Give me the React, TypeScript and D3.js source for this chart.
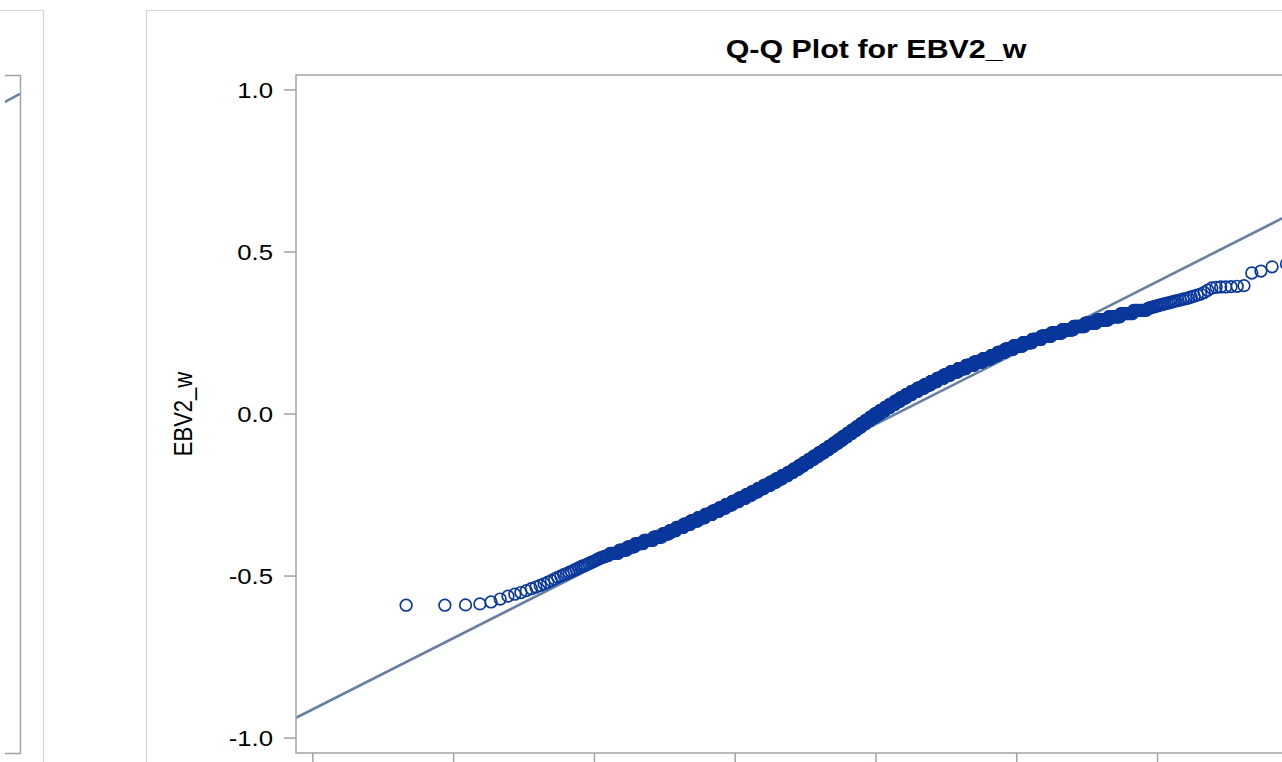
import React from "react";
import * as d3 from "d3";

// ---------- text ----------
const titleText = "Q-Q Plot for EBV2_w";
const yLabelText = "EBV2_w";

// ---------- axes ----------
const yTicks = [-1.0, -0.5, 0.0, 0.5, 1.0];
const xTicks = [-4, -3, -2, -1, 0, 1, 2, 3, 4];
const yDomain = [-1.046, 1.046];
const xDomain = [-4.12, 4.12];

// ---------- reference line (normal, mu / sigma) ----------
const refMu = -0.031;
const refSigma = 0.22;
// reference line of the neighbouring (cropped) panel on the left
const leftRefMu = 0.02;
const leftRefSigma = 0.235;

// ---------- sorted sample ----------
// lowest 43 order statistics
const lowTailValues = [
  -0.59, -0.59, -0.589, -0.586, -0.58, -0.571, -0.562, -0.556, -0.551, -0.545,
  -0.539, -0.534, -0.529, -0.524, -0.519, -0.514, -0.509, -0.504, -0.5, -0.496,
  -0.493, -0.489, -0.486, -0.482, -0.479, -0.475, -0.472, -0.469, -0.467, -0.464,
  -0.461, -0.459, -0.456, -0.454, -0.451, -0.448, -0.446, -0.443, -0.442, -0.44,
  -0.439, -0.437, -0.436,
];
// dense middle: value (rounded to 0.01) and number of observations
const midValues = [
  -0.43, -0.42, -0.41, -0.40, -0.39, -0.38, -0.37, -0.36, -0.35, -0.34,
  -0.33, -0.32, -0.31, -0.30, -0.29, -0.28, -0.27, -0.26, -0.25, -0.24,
  -0.23, -0.22, -0.21, -0.20, -0.19, -0.18, -0.17, -0.16, -0.15, -0.14,
  -0.13, -0.12, -0.11, -0.10, -0.09, -0.08, -0.07, -0.06, -0.05, -0.04,
  -0.03, -0.02, -0.01, 0.0, 0.01, 0.02, 0.03, 0.04, 0.05, 0.06,
  0.07, 0.08, 0.09, 0.10, 0.11, 0.12, 0.13, 0.14, 0.15, 0.16,
  0.17, 0.18, 0.19, 0.20, 0.21, 0.22, 0.23, 0.24, 0.25, 0.26,
  0.27, 0.28, 0.29, 0.30, 0.31, 0.32,
];
const midCounts = [
  7, 7, 7, 9, 11, 11, 10, 10, 12, 12,
  13, 14, 15, 15, 15, 16, 17, 18, 17, 18,
  18, 20, 19, 19, 20, 19, 19, 18, 19, 19,
  19, 20, 19, 19, 19, 18, 19, 19, 19, 19,
  19, 19, 20, 21, 21, 21, 22, 22, 23, 23,
  25, 25, 25, 25, 25, 25, 28, 27, 27, 27,
  26, 20, 21, 22, 24, 22, 20, 20, 20, 19,
  17, 15, 14, 12, 11, 10,
];
// highest 40 order statistics
const highTailValues = [
  0.325, 0.327, 0.328, 0.33, 0.331, 0.333, 0.334, 0.336, 0.337, 0.339,
  0.34, 0.342, 0.343, 0.345, 0.347, 0.349, 0.35, 0.352, 0.354, 0.356,
  0.358, 0.361, 0.364, 0.367, 0.37, 0.375, 0.382, 0.389, 0.391, 0.392,
  0.392, 0.393, 0.394, 0.396, 0.435, 0.441, 0.454, 0.463, 0.48, 0.52,
];

// ---------- colours ----------
const markerColor = "#0a389c";
const refLineColor = "#667fa2";
const axisColor = "#9ea3a8";
const panelBorder = "#d6d6d6";

// inverse standard normal CDF (Acklam)
function invNorm(p: number): number {
  const a = [-39.69683028665376, 220.9460984245205, -275.9285104469687, 138.357751867269, -30.66479806614716, 2.506628277459239];
  const b = [-54.47609879822406, 161.5858368580409, -155.6989798598866, 66.80131188771972, -13.28068155288572];
  const c = [-0.007784894002430293, -0.3223964580411365, -2.400758277161838, -2.549732539343734, 4.374664141464968, 2.938163982698783];
  const d = [0.007784695709041462, 0.3224671290700398, 2.445134137142996, 3.754408661907416];
  const plow = 0.02425;
  if (p < plow) {
    const q = Math.sqrt(-2 * Math.log(p));
    return (((((c[0] * q + c[1]) * q + c[2]) * q + c[3]) * q + c[4]) * q + c[5]) / ((((d[0] * q + d[1]) * q + d[2]) * q + d[3]) * q + 1);
  }
  if (p > 1 - plow) {
    const q = Math.sqrt(-2 * Math.log(1 - p));
    return -(((((c[0] * q + c[1]) * q + c[2]) * q + c[3]) * q + c[4]) * q + c[5]) / ((((d[0] * q + d[1]) * q + d[2]) * q + d[3]) * q + 1);
  }
  const q = p - 0.5;
  const r = q * q;
  return ((((((a[0] * r + a[1]) * r + a[2]) * r + a[3]) * r + a[4]) * r + a[5]) * q) / (((((b[0] * r + b[1]) * r + b[2]) * r + b[3]) * r + b[4]) * r + 1);
}

// ---------- layout ----------
const W = 1282;
const H = 762;
const plot = { left: 296, top: 75, width: 1160, height: 678 };
const leftPlotRight = 20;
const stretchX = 1.17; // text in the picture is horizontally widened

export default function App() {
  const sorted = [
    ...lowTailValues,
    ...midValues.flatMap((v, i) => Array(midCounts[i]).fill(v) as number[]),
    ...highTailValues,
  ];
  const n = sorted.length;
  const pts = sorted.map((v, i) => ({ q: invNorm((i + 1 - 0.375) / (n + 0.25)), v }));

  const x = d3.scaleLinear().domain(xDomain).range([plot.left, plot.left + plot.width]);
  const y = d3.scaleLinear().domain(yDomain).range([plot.top + plot.height, plot.top]);
  const refLine = d3.line<number>().x((q) => x(q)).y((q) => y(refMu + refSigma * q))(xDomain) || "";

  const xl = d3.scaleLinear().domain(xDomain).range([leftPlotRight - plot.width, leftPlotRight]);
  const leftLine = d3.line<number>().x((q) => xl(q)).y((q) => y(leftRefMu + leftRefSigma * q))(xDomain) || "";

  const bottom = plot.top + plot.height;
  const font = "'Liberation Sans', Arial, sans-serif";
  const fmt = (t: number) => d3.format(".1f")(t).replace("−", "-");

  return (
    <svg
      width={W}
      height={H}
      style={{ position: "fixed", left: 0, top: 0, background: "#fff", display: "block" }}
      fontFamily={font}
    >
      <rect x={0} y={0} width={W} height={H} fill="#fff" />
      <defs>
        <clipPath id="plotClip">
          <rect x={plot.left} y={plot.top} width={plot.width} height={plot.height} />
        </clipPath>
        <clipPath id="leftClip">
          <rect x={5} y={plot.top} width={leftPlotRight - 5} height={plot.height} />
        </clipPath>
      </defs>

      {/* left cropped panel */}
      <path d={`M0,10.5H43.5V${H}`} fill="none" stroke={panelBorder} strokeWidth={1.2} />
      <path d={leftLine} fill="none" stroke={refLineColor} strokeWidth={2.5} clipPath="url(#leftClip)" />
      <path
        d={`M5,${plot.top + 0.5}H${leftPlotRight + 0.5}V${bottom + 0.5}H5`}
        fill="none"
        stroke={axisColor}
        strokeWidth={1.5}
      />

      {/* main panel border */}
      <path d={`M146.5,${H}V10.5H${W}`} fill="none" stroke={panelBorder} strokeWidth={1.2} />

      {/* title */}
      <text
        transform={`translate(${x(0)},58) scale(${stretchX},1)`}
        textAnchor="middle"
        fontWeight="bold"
        fontSize={26}
        fill="#000"
      >
        {titleText}
      </text>

      {/* y axis label */}
      <text
        transform={`translate(192,${y(0)}) rotate(-90) scale(1,${stretchX})`}
        textAnchor="middle"
        fontSize={22}
        fill="#000"
      >
        {yLabelText}
      </text>

      {/* y ticks */}
      {yTicks.map((t) => (
        <g key={t}>
          <line x1={plot.left - 12} x2={plot.left} y1={y(t)} y2={y(t)} stroke={axisColor} strokeWidth={1.5} />
          <text
            transform={`translate(${plot.left - 23},${y(t)}) scale(${stretchX},1)`}
            dy="0.36em"
            textAnchor="end"
            fontSize={22}
            fill="#000"
          >
            {fmt(t)}
          </text>
        </g>
      ))}

      {/* x ticks */}
      {xTicks.map((t) => (
        <line key={t} x1={x(t)} x2={x(t)} y1={bottom} y2={bottom + 12} stroke={axisColor} strokeWidth={1.5} />
      ))}

      {/* reference line and points */}
      <g clipPath="url(#plotClip)">
        <path d={refLine} fill="none" stroke={refLineColor} strokeWidth={2.6} />
        {pts.map((p, i) => (
          <circle key={i} cx={x(p.q)} cy={y(p.v)} r={5.8} fill="none" stroke={markerColor} strokeWidth={1.7} />
        ))}
      </g>

      {/* plot frame */}
      <rect
        x={plot.left}
        y={plot.top}
        width={plot.width}
        height={plot.height}
        fill="none"
        stroke={axisColor}
        strokeWidth={1.5}
      />
    </svg>
  );
}
